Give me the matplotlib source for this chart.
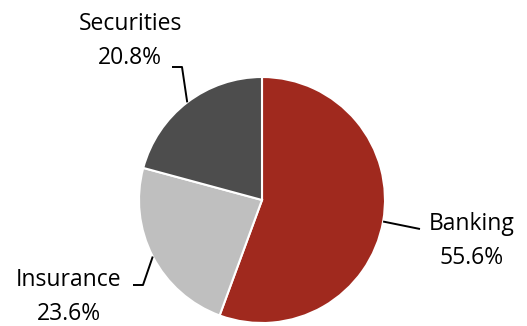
import numpy as np
import matplotlib.pyplot as plt

categories = ["Banking", "Insurance", "Securities"]
shares = [55.6, 23.6, 20.8]
colors = ["#A0291E", "#BFBFBF", "#4D4D4D"]

W, H = 527, 326
fig = plt.figure(figsize=(W / 100, H / 100), dpi=100)
ax = fig.add_axes([0, 0, 1, 1])
ax.axis("off")

cx, cy, r = 262, H - 200, 123
wedges, _ = ax.pie(shares, colors=colors, startangle=90, counterclock=False,
                   center=(cx, cy), radius=r,
                   wedgeprops=dict(edgecolor="white", linewidth=1.5))
ax.set_xlim(0, W)
ax.set_ylim(0, H)
ax.set_aspect("equal")

font = dict(family=["Open Sans", "DejaVu Sans"], fontsize=16.5, color="black")

# label block centres and leader elbows (pixel coordinates from the top-left)
layout = {
    "Banking": dict(text=(472, 241), path=[(420, 229)]),
    "Insurance": dict(text=(69, 297), path=[(143, 285), (133, 285)]),
    "Securities": dict(text=(130, 41), path=[(182, 67), (172, 67)]),
}

for w, name, val in zip(wedges, categories, shares):
    mid = np.deg2rad((w.theta1 + w.theta2) / 2)
    ex, ey = cx + r * np.cos(mid), cy + r * np.sin(mid)
    pts = [(ex, ey)] + [(x, H - y) for x, y in layout[name]["path"]]
    xs, ys = zip(*pts)
    ax.plot(xs, ys, color="black", lw=1.4, solid_capstyle="butt")
    tx, ty = layout[name]["text"]
    ax.text(tx, H - ty, f"{name}\n{val:.1f}%", ha="center", va="center",
            multialignment="center", linespacing=1.6, **font)

fig.savefig("out.png", dpi=100)
